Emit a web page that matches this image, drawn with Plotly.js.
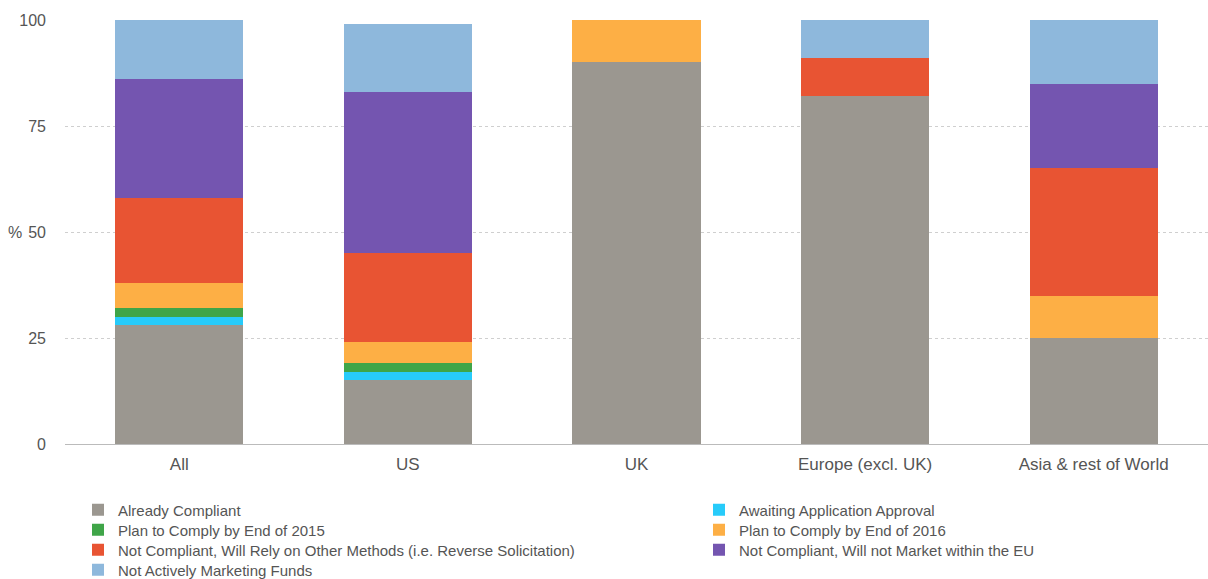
<!DOCTYPE html>
<html>
<head>
<meta charset="utf-8">
<script src="https://cdn.plot.ly/plotly-3.0.1.min.js"></script>
<style>html,body{margin:0;padding:0;background:#fff;}#chart{width:1208px;height:579px;}</style>
</head>
<body>
<div id="chart"></div>
<script>
const categories = ["All", "US", "UK", "Europe (excl. UK)", "Asia & rest of World"];
const seriesNames = [
  "Already Compliant",
  "Awaiting Application Approval",
  "Plan to Comply by End of 2015",
  "Plan to Comply by End of 2016",
  "Not Compliant, Will Rely on Other Methods (i.e. Reverse Solicitation)",
  "Not Compliant, Will not Market within the EU",
  "Not Actively Marketing Funds"
];
const alreadyCompliant   = [28, 15, 90, 82, 25];
const awaitingApproval   = [2, 2, 0, 0, 0];
const plan2015           = [2, 2, 0, 0, 0];
const plan2016           = [6, 5, 10, 0, 10];
const relyOtherMethods   = [20, 21, 0, 9, 30];
const notMarketEU        = [28, 38, 0, 0, 20];
const notActivelyMarket  = [14, 16, 0, 9, 15];
const seriesValues = [alreadyCompliant, awaitingApproval, plan2015, plan2016, relyOtherMethods, notMarketEU, notActivelyMarket];
const colors = ["#9b9790", "#27cbfa", "#3fa548", "#fdaf45", "#e85433", "#7455b0", "#8eb8dc"];
const yTicks = [0, 25, 50, 75, 100];

const font = "Liberation Sans, Arial, sans-serif";
const W = 1208, H = 579;
const legendIds = ["legend", "legend2", "legend3", "legend4", "legend5", "legend6", "legend7"];

const traces = seriesNames.map((name, i) => ({
  type: "bar",
  name: name,
  x: categories,
  y: seriesValues[i],
  legend: legendIds[i],
  marker: {color: colors[i], line: {width: 0}},
  hoverinfo: "x+y+name"
}));

const layout = {
  width: W, height: H,
  margin: {l: 65, r: 0, t: 20, b: 135, autoexpand: false},
  barmode: "stack",
  bargap: 0.44,
  paper_bgcolor: "#fff",
  plot_bgcolor: "#fff",
  font: {family: font, color: "#555", size: 15},
  showlegend: true,
  xaxis: {
    type: "category",
    showgrid: false,
    showline: true, linecolor: "#bbb", linewidth: 1,
    ticks: "", ticklabelstandoff: 5,
    tickangle: 0,
    tickfont: {family: font, size: 17, color: "#555"},
    fixedrange: true
  },
  yaxis: {
    range: [0, 100],
    tickvals: yTicks,
    ticktext: yTicks.map(String),
    showgrid: true, gridcolor: "#cfcfcf", griddash: "dot", gridwidth: 1,
    zeroline: false, showline: false,
    ticks: "", ticklabelstandoff: 18,
    tickfont: {family: font, size: 16, color: "#555"},
    fixedrange: true
  },
  annotations: [{
    text: "%", xref: "paper", yref: "paper", x: -0.0437, y: 0.5,
    xanchor: "center", yanchor: "middle", showarrow: false,
    font: {family: font, size: 16, color: "#555"}
  }]
};

// legend entries: two columns, row-major order as in the reference
const colLeftPx = [78, 699];
const rowCenterPx = [510, 530, 550, 570];
legendIds.forEach((id, i) => {
  const col = i % 2, row = Math.floor(i / 2);
  layout[id] = {
    orientation: "v",
    xref: "container", yref: "container",
    x: colLeftPx[col] / W, xanchor: "left",
    y: 1 - rowCenterPx[row] / H, yanchor: "middle",
    bgcolor: "rgba(0,0,0,0)",
    borderwidth: 0,
    font: {family: font, size: 15, color: "#555"},
    itemclick: false
  };
});

Plotly.newPlot("chart", traces, layout, {displayModeBar: false, staticPlot: true});
</script>
</body>
</html>
